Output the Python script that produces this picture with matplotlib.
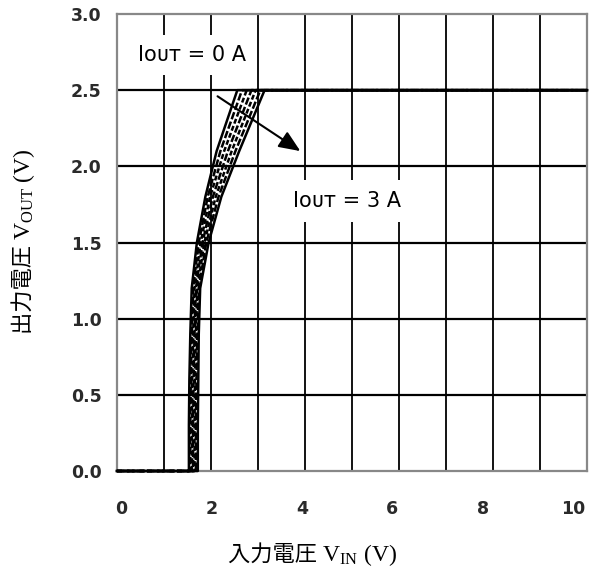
import matplotlib.pyplot as plt
from matplotlib.transforms import ScaledTranslation

plt.rcParams['mathtext.fontset'] = 'custom'
plt.rcParams['mathtext.rm'] = 'Liberation Serif'

# datos (IOUT = 0 A ... 3 A)
vout_niveles = [0.0, 0.3, 0.6, 0.9, 1.2, 1.5, 1.8, 2.1, 2.5]
vin_curvas = [
    [1.53, 1.53, 1.54, 1.56, 1.59, 1.70, 1.88, 2.12, 2.56],
    [1.56, 1.56, 1.57, 1.59, 1.62, 1.74, 1.93, 2.20, 2.66],
    [1.59, 1.59, 1.60, 1.62, 1.65, 1.78, 1.98, 2.28, 2.76],
    [1.62, 1.62, 1.63, 1.65, 1.68, 1.82, 2.04, 2.36, 2.86],
    [1.65, 1.65, 1.66, 1.68, 1.71, 1.86, 2.10, 2.44, 2.95],
    [1.68, 1.68, 1.69, 1.71, 1.74, 1.90, 2.16, 2.52, 3.05],
    [1.72, 1.72, 1.73, 1.74, 1.77, 1.95, 2.22, 2.60, 3.14],
]
vin_min, vin_max = 0.0, 10.0
vout_reg = 2.5
xticks = [0, 2, 4, 6, 8, 10]
yticks = [0.0, 0.5, 1.0, 1.5, 2.0, 2.5, 3.0]
estilos = ['-', (0, (3, 1)), (0, (2, 1)), (0, (3, 1)), (0, (2, 1)), (0, (3, 1)), '-']

fig = plt.figure(figsize=(5.92, 5.67), dpi=100)
ax = fig.add_axes([0.1976, 0.1693, 0.794, 0.806])

# grilla
for xv in range(1, 10):
    ax.axvline(xv, color='black', lw=1.3, zorder=1)
for yv in [0.5, 1.0, 1.5, 2.0, 2.5]:
    ax.axhline(yv, color='black', lw=1.6, zorder=1)

# curvas
for xs, ls in zip(vin_curvas, estilos):
    x = [vin_min] + xs + [vin_max]
    y = [0.0] + vout_niveles + [vout_reg]
    ax.plot(x, y, color='black', lw=1.8, ls=ls, zorder=3, clip_on=False)

ax.set_xlim(0, 10)
ax.set_ylim(0, 3.0)
ax.set_xticks(xticks)
ax.set_yticks(yticks)
ax.set_yticklabels([f'{v:.1f}' for v in yticks])
ax.tick_params(axis='both', length=0, labelsize=12.5, labelcolor='#2a2a2a')
ax.tick_params(axis='x', pad=21)
ax.tick_params(axis='y', pad=11)
for t in ax.get_xticklabels() + ax.get_yticklabels():
    t.set_fontweight('bold')
# las etiquetas del eje x quedan algo corridas a la izquierda en el original
for i, t in enumerate(ax.get_xticklabels()):
    dx = (3 - 2.6 * i) / 72
    t.set_transform(t.get_transform() + ScaledTranslation(dx, 0, fig.dpi_scale_trans))
for s in ax.spines.values():
    s.set_color('#888888')
    s.set_linewidth(1.6)
    s.set_zorder(2)

ax.text(0.45, 2.73, 'Iᴏᴜᴛ = 0 A', fontsize=15, va='center', ha='left', zorder=5,
        bbox=dict(facecolor='white', edgecolor='none', pad=7))
ax.text(3.74, 1.77, 'Iᴏᴜᴛ = 3 A', fontsize=15, va='center', ha='left', zorder=5,
        bbox=dict(facecolor='white', edgecolor='none', pad=8))
ax.annotate('', xy=(3.95, 2.09), xytext=(2.09, 2.47), zorder=6,
            arrowprops=dict(arrowstyle='-|>,head_length=1.3,head_width=0.55',
                            color='black', lw=1.5))

# titulos de ejes: parte japonesa + parte en serif con subindice
cjk = ['Noto Sans CJK JP', 'DejaVu Sans']
ren = fig.canvas.get_renderer()
inv = fig.transFigure.inverted()

tx1 = fig.text(228 / 592, 1 - 561 / 567, '入力電圧 ', fontsize=16, family=cjk,
               ha='left', va='baseline')
bb = inv.transform(tx1.get_window_extent(ren))
fig.text(bb[1][0], 1 - 561 / 567, r'$\mathrm{V_{IN}}$ (V)', fontsize=17,
         family='Liberation Serif', ha='left', va='baseline')

ty1 = fig.text(30 / 592, 1 - 334 / 567, '出力電圧 ', fontsize=16, family=cjk,
               rotation=90, rotation_mode='anchor', ha='left', va='baseline')
bb = inv.transform(ty1.get_window_extent(ren))
fig.text(30 / 592, bb[1][1], r'$\mathrm{V_{OUT}}$ (V)', fontsize=17,
         family='Liberation Serif', rotation=90, rotation_mode='anchor',
         ha='left', va='baseline')

fig.savefig('out.png', dpi=100)
